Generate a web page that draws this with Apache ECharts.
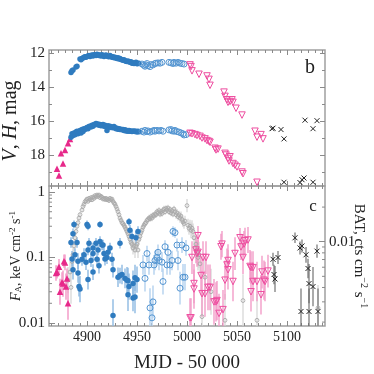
<!DOCTYPE html>
<html><head><meta charset="utf-8">
<script src="https://cdn.jsdelivr.net/npm/echarts@6/dist/echarts.min.js"></script>
<style>html,body{margin:0;padding:0;background:#fff}#c{width:374px;height:374px}</style>
</head><body><div id="c"></div>
<script>
// ---------- axis ranges & tick labels ----------
var X_MIN = 4862, X_MAX = 5138;
var X_LABELS = [4900, 4950, 5000, 5050, 5100];
var MAG_MIN = 11.824, MAG_MAX = 19.82;
var MAG_LABELS = [12, 14, 16, 18];
var MAG_MINOR = [13, 15, 17, 19];
var F_MIN = 0.009, F_MAX = 1.235;
var F_MINOR = [0.02,0.03,0.04,0.05,0.06,0.07,0.08,0.09,0.2,0.3,0.4,0.5,0.6,0.7,0.8,0.9];
var BAT_MIN = 0.00185, BAT_MAX = 0.0305;
var BAT_MINOR = [0.002,0.003,0.004,0.005,0.006,0.007,0.008,0.009,0.02];

// ---------- panel b: V and H magnitudes [MJD, mag] ----------
var vFilled = [[4884,13.15],[4885,13.05],[4886,13.0],[4889,12.82],[4890,12.78],[4893,12.35],[4894,12.4],[4895,12.32],[4896,12.3],[4897,12.25],[4898,12.22],[4899,12.25],[4900,12.2],[4901,12.18],[4902,12.15],[4903,12.2],[4904,12.15],[4905,12.12],[4906,12.18],[4907,12.1],[4908,12.12],[4909,12.15],[4910,12.08],[4911,12.1],[4912,12.15],[4913,12.12],[4914,12.18],[4915,12.1],[4916,12.15],[4917,12.2],[4918,12.15],[4919,12.12],[4920,12.18],[4921,12.2],[4922,12.22],[4923,12.15],[4924,12.2],[4925,12.25],[4926,12.22],[4927,12.28],[4928,12.25],[4929,12.3],[4930,12.32],[4931,12.28],[4932,12.35],[4933,12.33],[4934,12.38],[4935,12.4],[4936,12.42],[4937,12.4],[4938,12.45],[4939,12.48],[4940,12.5],[4941,12.47],[4942,12.52],[4943,12.55],[4944,12.52],[4945,12.6],[4946,12.58],[4947,12.62],[4948,12.6],[4949,12.55],[4950,12.63],[4951,12.62],[4952,12.6]];
var vOpen = [[4955,12.65],[4957,12.72],[4958,12.78],[4959,12.7],[4960,12.62],[4961,12.75],[4963,12.8],[4964,12.68],[4966,12.7],[4968,12.62],[4969,12.6],[4971,12.58],[4973,12.6],[4975,12.55],[4982,12.55],[4984,12.58],[4986,12.62],[4987,12.55],[4989,12.6],[4991,12.55],[4993,12.6],[4995,12.62],[4997,12.65]];
var vPink = [[5003,12.7],[5004,12.8],[5005,13.05],[5012,13.25],[5020,13.35],[5022,13.55],[5023,13.9],[5037,14.3],[5038,14.55],[5040,14.75],[5041,14.9],[5043,14.85],[5045,14.75],[5046,14.9],[5049,15.25],[5055,15.65],[5068,16.6],[5070,16.95],[5074,16.8],[5076,17.05]];
var vCross = [[5085,16.45],[5086,16.42],[5094,16.5],[5097,17.05],[5118,15.95],[5126,16.45],[5130,15.98]];
var hFilled = [[4884,16.95],[4885,16.75],[4886,16.85],[4887,16.7],[4888,16.8],[4889,16.65],[4890,16.6],[4891,16.75],[4892,16.62],[4893,16.55],[4894,16.7],[4895,16.5],[4896,16.62],[4897,16.45],[4898,16.5],[4899,16.42],[4900,16.38],[4901,16.45],[4902,16.32],[4903,16.3],[4904,16.35],[4905,16.25],[4906,16.3],[4907,16.2],[4908,16.22],[4909,16.15],[4910,16.2],[4911,16.18],[4912,16.25],[4913,16.2],[4914,16.28],[4915,16.22],[4916,16.2],[4917,16.3],[4918,16.25],[4919,16.32],[4920,16.55],[4921,16.28],[4922,16.35],[4923,16.3],[4924,16.38],[4925,16.35],[4926,16.4],[4927,16.32],[4928,16.4],[4929,16.45],[4930,16.42],[4931,16.48],[4932,16.45],[4933,16.5],[4934,16.48],[4935,16.52],[4936,16.5],[4937,16.55],[4938,16.52],[4939,16.58],[4940,16.55],[4941,16.6],[4942,16.55],[4943,16.6],[4944,16.58],[4945,16.62],[4946,16.6],[4947,16.58],[4948,16.62],[4949,16.6],[4950,16.65],[4951,16.6],[4952,16.63]];
var hOpen = [[4955,16.6],[4957,16.65],[4958,16.55],[4960,16.62],[4961,16.58],[4963,16.65],[4965,16.6],[4967,16.55],[4968,16.6],[4970,16.55],[4972,16.58],[4974,16.55],[4976,16.6],[4982,16.52],[4984,16.5],[4985,16.58],[4987,16.6],[4988,16.55],[4990,16.62],[4992,16.65],[4994,16.7],[4996,16.75],[4997,16.82],[4999,16.8]];
var hPink = [[5003,16.72],[5005,16.75],[5008,16.8],[5010,16.85],[5013,16.9],[5015,17.0],[5018,17.05],[5020,17.15],[5022,17.2],[5023,17.25],[5028,17.6],[5029,17.7],[5031,17.65],[5038,17.9],[5039,18.0],[5041,18.2],[5042,18.35],[5043,18.1],[5046,18.5],[5048,18.6],[5050,18.7],[5055,19.0],[5056,19.1],[5070,19.6]];
var hCross = [[5097,19.6],[5113,19.62],[5115,19.45],[5117,19.35],[5126,19.6]];
var hTri = [[4870,18.8],[4872,19.2],[4874,17.9],[4876,18.5],[4878,17.7],[4881,17.3],[4883,17.05]];

// ---------- panel c: flux [MJD, F, error half-length in dex] ----------
var fTri = [[4869,0.058,0.12],[4870,0.06,0.1],[4872,0.072,0.12],[4873,0.03,0.2],[4875,0.042,0.15],[4876,0.04,0.2],[4877,0.088,0.1],[4878,0.084,0.12],[4879,0.036,0.2],[4880,0.048,0.15],[4881,0.02,0.25]];
var fBlue = [[4884,0.17,0.08],[4885,0.095,0.12],[4886,0.23,0.08],[4886,0.065,0.15],[4887,0.32,0.06],[4888,0.11,0.1],[4890,0.17,0.08],[4891,0.088,0.12],[4891,0.058,0.15],[4892,0.036,0.15],[4893,0.033,0.2],[4895,0.094,0.1],[4897,0.11,0.1],[4899,0.085,0.12],[4900,0.32,0.06],[4901,0.3,0.06],[4901,0.13,0.08],[4901,0.046,0.15],[4902,0.165,0.08],[4904,0.09,0.1],[4906,0.14,0.08],[4906,0.115,0.1],[4906,0.06,0.12],[4909,0.165,0.08],[4910,0.094,0.1],[4911,0.13,0.08],[4912,0.075,0.12],[4913,0.32,0.05],[4913,0.175,0.08],[4915,0.155,0.08],[4916,0.155,0.08],[4917,0.115,0.1],[4918,0.095,0.1],[4920,0.1,0.1],[4921,0.12,0.1],[4923,0.14,0.08],[4925,0.094,0.1],[4926,0.065,0.12],[4926,0.013,0.25],[4931,0.05,0.15],[4933,0.053,0.12],[4933,0.165,0.08],[4935,0.055,0.15],[4938,0.048,0.15],[4940,0.045,0.2],[4941,0.044,0.2],[4941,0.027,0.25],[4942,0.35,0.06],[4942,0.036,0.2],[4943,0.26,0.08],[4945,0.21,0.08],[4946,0.024,0.2],[4946,0.04,0.2],[4948,0.025,0.25],[4948,0.049,0.2],[4949,0.2,0.1],[4950,0.046,0.2],[4951,0.25,0.08]];
var fBlueOpen = [[4956,0.077,0.15],[4958,0.048,0.2],[4960,0.115,0.12],[4962,0.077,0.15],[4963,0.017,0.3],[4965,0.012,0.3],[4966,0.021,0.25],[4967,0.077,0.15],[4968,0.09,0.15],[4970,0.1,0.12],[4971,0.12,0.12],[4972,0.09,0.15],[4975,0.085,0.15],[4976,0.043,0.2],[4978,0.146,0.1],[4980,0.077,0.15],[4981,0.12,0.12],[4983,0.077,0.15],[4985,0.09,0.15],[4986,0.25,0.08],[4988,0.24,0.08],[4990,0.155,0.1],[4991,0.09,0.15],[4993,0.034,0.25],[4995,0.155,0.12],[4996,0.05,0.2],[4998,0.05,0.2],[4999,0.14,0.12]];
var fGray = [[4881,0.045,0.2],[4883,0.06,0.15],[4884,0.035,0.25],[4885,0.087,0.12],[4886,0.11,0.1],[4887,0.15,0.08],[4888,0.2,0.06],[4889,0.25,0.05],[4890,0.3,0.05],[4891,0.34,0.05],[4892,0.4,0.04],[4893,0.45,0.04],[4895,0.53,0.03],[4896,0.6,0.03],[4897,0.65,0.03],[4898,0.71,0.03],[4899,0.74,0.03],[4900,0.78,0.03],[4901,0.72,0.03],[4902,0.8,0.03],[4903,0.76,0.03],[4904,0.82,0.03],[4905,0.76,0.03],[4906,0.84,0.03],[4907,0.8,0.03],[4908,0.88,0.03],[4909,0.84,0.03],[4910,0.9,0.03],[4911,0.86,0.03],[4912,0.9,0.03],[4913,0.82,0.03],[4914,0.86,0.03],[4915,0.83,0.03],[4916,0.78,0.03],[4917,0.8,0.03],[4918,0.77,0.03],[4919,0.8,0.03],[4920,0.76,0.03],[4921,0.78,0.03],[4922,0.74,0.03],[4923,0.8,0.03],[4924,0.76,0.03],[4925,0.78,0.03],[4926,0.72,0.03],[4927,0.68,0.03],[4928,0.65,0.04],[4929,0.6,0.04],[4930,0.55,0.04],[4931,0.5,0.04],[4932,0.45,0.04],[4933,0.4,0.05],[4934,0.37,0.05],[4935,0.34,0.05],[4936,0.33,0.05],[4937,0.31,0.05],[4938,0.29,0.06],[4939,0.27,0.06],[4940,0.25,0.06],[4941,0.23,0.07],[4942,0.21,0.07],[4943,0.19,0.08],[4944,0.17,0.08],[4945,0.16,0.1],[4946,0.14,0.1],[4947,0.15,0.1],[4948,0.13,0.12],[4949,0.15,0.1],[4950,0.16,0.1],[4951,0.13,0.12],[4952,0.19,0.08],[4953,0.21,0.08],[4954,0.24,0.07],[4955,0.26,0.07],[4956,0.29,0.06],[4957,0.31,0.06],[4958,0.33,0.05],[4959,0.34,0.05],[4960,0.37,0.05],[4961,0.38,0.05],[4962,0.4,0.05],[4963,0.39,0.05],[4964,0.42,0.05],[4965,0.4,0.05],[4966,0.44,0.05],[4967,0.43,0.05],[4968,0.46,0.05],[4969,0.45,0.05],[4970,0.5,0.05],[4971,0.48,0.05],[4972,0.52,0.05],[4973,0.46,0.05],[4974,0.5,0.05],[4975,0.47,0.05],[4976,0.52,0.05],[4977,0.55,0.05],[4978,0.5,0.05],[4979,0.56,0.05],[4980,0.53,0.05],[4981,0.57,0.05],[4982,0.5,0.05],[4983,0.54,0.05],[4984,0.48,0.05],[4985,0.52,0.05],[4986,0.46,0.05],[4987,0.55,0.05],[4988,0.5,0.05],[4989,0.45,0.06],[4990,0.48,0.06],[4991,0.42,0.06],[4992,0.45,0.06],[4993,0.4,0.07],[4994,0.43,0.07],[4995,0.38,0.07],[4996,0.35,0.08],[4997,0.33,0.08],[4998,0.36,0.08],[5000,0.62,0.1],[5001,0.31,0.1],[5002,0.28,0.1],[5003,0.3,0.1],[5004,0.26,0.12],[5005,0.28,0.12],[5006,0.25,0.12],[5007,0.2,0.15],[5008,0.14,0.15],[5009,0.16,0.15],[5010,0.12,0.15],[5011,0.1,0.2],[5012,0.11,0.2],[5013,0.08,0.2],[5015,0.0125,0.4],[5018,0.05,0.3],[5024,0.03,0.35],[5038,0.011,0.4],[5056,0.022,0.4],[5070,0.011,0.4],[5131,0.017,0.35]];
var fPink = [[5003,0.012,0.3],[5004,0.012,0.3],[5005,0.1,0.25],[5007,0.033,0.3],[5007,0.04,0.3],[5009,0.13,0.2],[5010,0.115,0.2],[5011,0.12,0.2],[5011,0.215,0.15],[5014,0.053,0.3],[5015,0.028,0.35],[5016,0.1,0.25],[5018,0.028,0.35],[5019,0.1,0.25],[5021,0.035,0.35],[5023,0.035,0.35],[5027,0.021,0.35],[5029,0.021,0.3],[5030,0.022,0.3],[5032,0.014,0.3],[5034,0.146,0.2],[5035,0.16,0.2],[5036,0.016,0.3],[5038,0.045,0.3],[5040,0.077,0.25],[5041,0.065,0.3],[5041,0.09,0.25],[5046,0.043,0.3],[5048,0.115,0.25],[5053,0.2,0.15],[5054,0.145,0.2],[5056,0.1,0.25],[5057,0.16,0.2],[5058,0.18,0.2],[5061,0.185,0.2],[5063,0.073,0.25],[5064,0.03,0.3],[5064,0.07,0.25],[5066,0.07,0.25],[5066,0.043,0.3],[5070,0.043,0.3],[5074,0.027,0.3],[5075,0.06,0.25],[5077,0.045,0.3],[5078,0.043,0.3],[5081,0.062,0.25]];
var fCross = [[5086,0.094,0.1],[5087,0.055,0.15],[5088,0.047,0.2],[5091,0.1,0.1],[5108,0.2,0.08],[5113,0.14,0.1],[5114,0.015,0.35],[5115,0.15,0.1],[5119,0.11,0.12],[5121,0.068,0.15],[5122,0.04,0.3],[5122,0.015,0.35],[5126,0.036,0.3],[5130,0.125,0.1],[5131,0.015,0.35]];

// ---------- styling ----------
var FONT = 'Liberation Serif';
var FRAME = '#a0a0a0', TICK = '#8a8a8a', TXT = '#222';
var BLUE = '#2f7bbf', BLUE_O = '#5596d2', BLUE_E = '#8db9e2', BLUE_OE = '#b3d1ee';
var PINK = '#e7298a', PINK_O = '#ee4ea0', PINK_E = '#f39cc8';
var GRAY = '#a9a9a9', GRAY_E = '#d4d4d4', BLACK = '#222', BLACK_E = '#666';
var CROSS = 'path://M0 0L10 10M10 0L0 10';

var X_MINOR = [];
for (var k = -5; k <= 35; k++) {
  var v = 4900 + k * 50 / 7;
  if (v > X_MIN + 0.5 && v < X_MAX - 0.5 && k % 7 !== 0) X_MINOR.push(v);
}

function xAx(grid, pos, vals, len, lab) {
  return {type: 'value', gridIndex: grid, position: pos, min: X_MIN, max: X_MAX,
    axisLine: {show: false}, splitLine: {show: false},
    axisTick: {show: true, inside: true, length: len, customValues: vals, lineStyle: {color: TICK, width: 1}},
    axisLabel: {show: !!lab, customValues: X_LABELS, margin: 4, formatter: function (v) { return String(v); },
      fontFamily: FONT, fontSize: 14, color: TXT}};
}
function magAx(pos, vals, len, lab) {
  return {type: 'value', gridIndex: 0, position: pos, inverse: true, min: MAG_MIN, max: MAG_MAX,
    axisLine: {show: false}, splitLine: {show: false},
    axisTick: {show: true, inside: true, length: len, customValues: vals, lineStyle: {color: TICK, width: 1}},
    axisLabel: {show: !!lab, customValues: MAG_LABELS, margin: 4, fontFamily: FONT, fontSize: 15, color: TXT}};
}
function logFmt(v) { return v >= 1 ? String(Math.round(v)) : String(+v.toPrecision(1)); }

function errSeries(pts, color, xi, yi, w) {
  return {type: 'custom', xAxisIndex: xi, yAxisIndex: yi, clip: true, silent: true, z: 1,
    data: pts.map(function (p) { return [p[0], p[1] / Math.pow(10, p[2]), p[1] * Math.pow(10, p[2])]; }),
    encode: {x: 0, y: [1, 2]},
    renderItem: function (params, api) {
      var a = api.coord([api.value(0), api.value(1)]), b = api.coord([api.value(0), api.value(2)]);
      return {type: 'line', shape: {x1: a[0], y1: a[1], x2: b[0], y2: b[1]}, style: {stroke: color, lineWidth: w || 1.3}};
    }};
}
function minorTicks(vals, yi, side) {
  return {type: 'custom', xAxisIndex: 4, yAxisIndex: yi, silent: true, z: 6,
    data: vals.map(function (v) { return [X_MIN, v]; }), encode: {x: 0, y: 1},
    renderItem: function (params, api) {
      var p = api.coord([X_MIN, api.value(1)]);
      var cs = params.coordSys;
      var x0 = side === 'left' ? cs.x : cs.x + cs.width;
      var dx = side === 'left' ? 3 : -3;
      return {type: 'line', shape: {x1: x0, y1: p[1], x2: x0 + dx, y2: p[1]}, style: {stroke: TICK, lineWidth: 1}};
    }};
}
function sc(data, xi, yi, sym, size, fill, stroke, rot, z, bw) {
  return {type: 'scatter', xAxisIndex: xi, yAxisIndex: yi, data: data.map(function (p) { return [p[0], p[1]]; }),
    symbol: sym, symbolSize: size, symbolRotate: rot || 0, z: z || 3, silent: true,
    itemStyle: {color: fill, borderColor: stroke, borderWidth: stroke ? (bw || 1) : 0, opacity: 1}};
}

var NONE = 'rgba(0,0,0,0)';
var option = {
  animation: false,
  backgroundColor: '#fff',
  grid: [
    {left: 49, top: 50, width: 276, height: 136, show: true, borderColor: FRAME, borderWidth: 1.5, backgroundColor: NONE},
    {left: 49, top: 186, width: 276, height: 140, show: true, borderColor: FRAME, borderWidth: 1.5, backgroundColor: NONE}
  ],
  xAxis: [
    xAx(0, 'bottom', X_LABELS, 5), xAx(0, 'top', X_LABELS, 5),
    xAx(0, 'bottom', X_MINOR, 3), xAx(0, 'top', X_MINOR, 3),
    xAx(1, 'bottom', X_LABELS, 5, true), xAx(1, 'top', X_LABELS, 5),
    xAx(1, 'bottom', X_MINOR, 3), xAx(1, 'top', X_MINOR, 3)
  ],
  yAxis: [
    magAx('left', MAG_LABELS, 5, true), magAx('right', MAG_LABELS, 5),
    magAx('left', MAG_MINOR, 3), magAx('right', MAG_MINOR, 3),
    {type: 'log', logBase: 10, gridIndex: 1, position: 'left', min: F_MIN, max: F_MAX,
     axisLine: {show: false}, splitLine: {show: false}, minorTick: {show: false},
     axisTick: {show: true, inside: true, length: 6, lineStyle: {color: TICK, width: 1}},
     axisLabel: {show: true, showMinLabel: false, showMaxLabel: false, margin: 4, formatter: logFmt, fontFamily: FONT, fontSize: 15, color: TXT}},
    {type: 'log', logBase: 10, gridIndex: 1, position: 'right', min: BAT_MIN, max: BAT_MAX,
     axisLine: {show: false}, splitLine: {show: false},
     axisTick: {show: true, inside: true, length: 6, lineStyle: {color: TICK, width: 1}},
     axisLabel: {show: true, showMinLabel: false, showMaxLabel: false, margin: 4, formatter: logFmt, fontFamily: FONT, fontSize: 15, color: TXT}}
  ],
  series: [
    // panel b
    sc(hTri, 0, 0, 'triangle', 6.5, PINK, null),
    sc(vFilled, 0, 0, 'circle', 5.5, BLUE, null),
    sc(hFilled, 0, 0, 'circle', 5.5, BLUE, null),
    sc(vOpen, 0, 0, 'circle', 6, NONE, BLUE_O),
    sc(hOpen, 0, 0, 'circle', 6, NONE, BLUE_O),
    sc(vPink, 0, 0, 'triangle', 6.5, NONE, PINK_O, 180),
    sc(hPink, 0, 0, 'triangle', 6.5, NONE, PINK_O, 180),
    sc(vCross, 0, 0, CROSS, 5, NONE, BLACK),
    sc(hCross, 0, 0, CROSS, 5, NONE, BLACK),
    // panel c error bars
    errSeries(fGray, GRAY_E, 4, 4, 1.2),
    errSeries(fBlueOpen, BLUE_OE, 4, 4, 1.4),
    errSeries(fBlue, BLUE_E, 4, 4, 1.4),
    errSeries(fTri, PINK_E, 4, 4, 1.5),
    errSeries(fPink, PINK_E, 4, 4, 1.4),
    errSeries(fCross, BLACK_E, 4, 4, 1.1),
    // panel c markers
    sc(fGray, 4, 4, 'circle', 3.8, NONE, GRAY, 0, 2, 0.9),
    sc(fBlueOpen, 4, 4, 'circle', 6, NONE, BLUE_O),
    sc(fBlue, 4, 4, 'circle', 5.5, BLUE, null),
    sc(fTri, 4, 4, 'triangle', 6.5, PINK, null),
    sc(fPink, 4, 4, 'triangle', 6.5, NONE, PINK_O, 180),
    sc(fCross, 4, 4, CROSS, 5, NONE, BLACK),
    // log minor ticks
    minorTicks(F_MINOR, 4, 'left'),
    minorTicks(BAT_MINOR, 5, 'right')
  ],
  graphic: [
    {type: 'text', x: 187, y: 363, silent: true,
     style: {text: 'MJD - 50 000', font: '19px "' + FONT + '"', fill: TXT, align: 'center', verticalAlign: 'middle', textAlign: 'center', textVerticalAlign: 'middle'}},
    {type: 'text', x: 11, y: 121, rotation: Math.PI / 2, silent: true,
     style: {text: '{i|V}{n|, }{i|H}{n|, mag}', fill: TXT, align: 'center', verticalAlign: 'middle', textAlign: 'center', textVerticalAlign: 'middle',
       rich: {i: {fontFamily: FONT, fontSize: 20, fontStyle: 'italic', fill: TXT}, n: {fontFamily: FONT, fontSize: 20, fill: TXT}}}},
    {type: 'text', x: 16, y: 256, rotation: Math.PI / 2, silent: true,
     style: {text: '{i|F}{sub|A}{n|, keV cm}{sup|-2}{n| s}{sup|-1}', fill: TXT, align: 'center', verticalAlign: 'middle', textAlign: 'center', textVerticalAlign: 'middle',
       rich: {i: {fontFamily: FONT, fontSize: 14, fontStyle: 'italic', verticalAlign: 'bottom'},
              n: {fontFamily: FONT, fontSize: 14, verticalAlign: 'bottom'},
              sub: {fontFamily: FONT, fontSize: 9, verticalAlign: 'bottom', padding: [0, 0, 0, 0]},
              sup: {fontFamily: FONT, fontSize: 9, verticalAlign: 'bottom', padding: [0, 0, 6, 0]}}}},
    {type: 'text', x: 360, y: 256, rotation: -Math.PI / 2, silent: true,
     style: {text: '{n|BAT, cts cm}{sup|−2}{n| s}{sup|−1}', fill: TXT, align: 'center', verticalAlign: 'middle', textAlign: 'center', textVerticalAlign: 'middle',
       rich: {n: {fontFamily: FONT, fontSize: 15, verticalAlign: 'bottom'},
              sup: {fontFamily: FONT, fontSize: 10, verticalAlign: 'bottom', padding: [0, 0, 7, 0]}}}},
    {type: 'text', x: 310, y: 68, silent: true,
     style: {text: 'b', font: '20px "' + FONT + '"', fill: TXT, align: 'center', verticalAlign: 'middle', textAlign: 'center', textVerticalAlign: 'middle'}},
    {type: 'text', x: 313, y: 207, silent: true,
     style: {text: 'c', font: '17px "' + FONT + '"', fill: TXT, align: 'center', verticalAlign: 'middle', textAlign: 'center', textVerticalAlign: 'middle'}}
  ]
};
var chart = echarts.init(document.getElementById('c'), null, {renderer: 'canvas'});
chart.setOption(option);
</script></body></html>
